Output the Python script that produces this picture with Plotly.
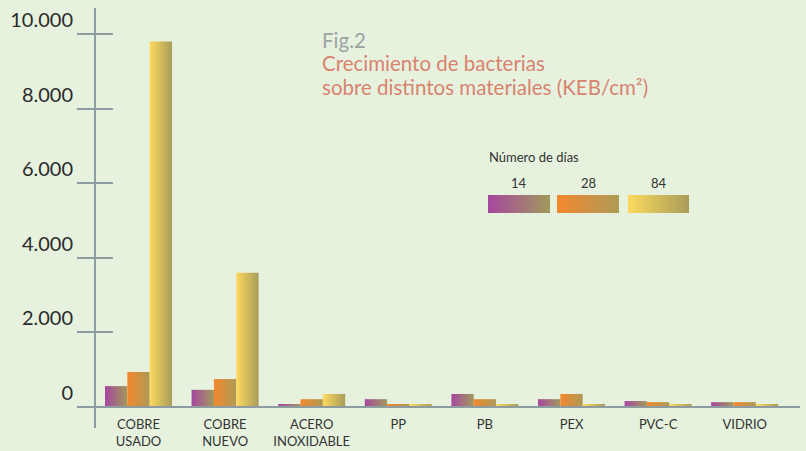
import plotly.graph_objects as go

# ---------------- data ----------------
categories = ["COBRE<br>USADO", "COBRE<br>NUEVO", "ACERO<br>INOXIDABLE", "PP", "PB", "PEX", "PVC-C", "VIDRIO"]
series_names = ["14", "28", "84"]
dias_14 = [560, 460, 80, 210, 350, 210, 160, 130]
dias_28 = [940, 750, 210, 80, 210, 350, 130, 130]
dias_84 = [9800, 3600, 350, 80, 80, 80, 80, 80]
y_tick_values = [0, 2000, 4000, 6000, 8000, 10000]
y_tick_labels = ["0", "2.000", "4.000", "6.000", "8.000", "10.000"]

# ---------------- styling ----------------
W, H = 806, 451
BG = "#E6F2DE"
AXIS = "#8C9CA0"
FONT = "Lato"
grad = [
    ["#A7479F", "#A09A5C"],
    ["#F3882E", "#AE9A56"],
    ["#FDDA5E", "#A89C5A"],
]
series = [dias_14, dias_28, dias_84]

# pixel layout helpers
x0_px, x1_px = 78, 800
ytop_px, ybot_px, yzero_px = 8, 428, 407
c0_px, step_px = 138.5, 86.6
xr = [(x0_px - c0_px) / step_px, (x1_px - c0_px) / step_px]
ppu = (yzero_px - 34) / 10000.0
yr = [-(ybot_px - yzero_px) / ppu, (yzero_px - ytop_px) / ppu]

fig = go.Figure()

bw = 0.258
for s, vals in enumerate(series):
    off = (s - 1) * bw
    for i, v in enumerate(vals):
        xa, xb = i + off - bw / 2, i + off + bw / 2
        fig.add_trace(go.Scatter(
            x=[xa, xb, xb, xa, xa], y=[0, 0, v, v, 0],
            mode="lines", fill="toself", line=dict(width=0, color="rgba(0,0,0,0)"),
            fillgradient=dict(type="horizontal", colorscale=[[0, grad[s][0]], [1, grad[s][1]]]),
            hoverinfo="skip", showlegend=False, xaxis="x", yaxis="y",
        ))

# legend swatches on a separate full-page pixel axis
sw_x = [(488, 550), (557, 619), (628, 689)]
sw_y = (195, 213)
for s, (a, b) in enumerate(sw_x):
    fig.add_trace(go.Scatter(
        x=[a, b, b, a, a], y=[sw_y[0], sw_y[0], sw_y[1], sw_y[1], sw_y[0]],
        mode="lines", fill="toself", line=dict(width=0, color="rgba(0,0,0,0)"),
        fillgradient=dict(type="horizontal", colorscale=[[0, grad[s][0]], [1, grad[s][1]]]),
        hoverinfo="skip", showlegend=False, xaxis="x3", yaxis="y3",
    ))

annotations = []
for s, (a, b) in enumerate(sw_x):
    annotations.append(dict(x=(a + b) / 2 / W, y=1 - 183 / H, xref="paper", yref="paper",
                            text=series_names[s], showarrow=False, xanchor="center", yanchor="middle",
                            font=dict(family=FONT, size=13, color="#333333")))
annotations.append(dict(x=487 / W, y=1 - 157 / H, xref="paper", yref="paper", text="Número de días",
                        showarrow=False, xanchor="left", yanchor="middle",
                        font=dict(family=FONT, size=13, color="#333333")))
TS = 20.5
annotations.append(dict(x=320 / W, y=1 - 40 / H, xref="paper", yref="paper", text="Fig.2",
                        showarrow=False, xanchor="left", yanchor="middle",
                        font=dict(family=FONT, size=TS, color="#9CA3A3")))
annotations.append(dict(x=320 / W, y=1 - 63 / H, xref="paper", yref="paper", text="Crecimiento de bacterias",
                        showarrow=False, xanchor="left", yanchor="middle",
                        font=dict(family=FONT, size=TS, color="#D9826E")))
annotations.append(dict(x=320 / W, y=1 - 87 / H, xref="paper", yref="paper",
                        text="sobre distintos materiales (KEB/cm²)",
                        showarrow=False, xanchor="left", yanchor="middle",
                        font=dict(family=FONT, size=TS, color="#D9826E")))

ydom = [1 - ybot_px / H, 1 - ytop_px / H]
fig.update_layout(
    width=W, height=H, margin=dict(l=0, r=0, t=0, b=0),
    paper_bgcolor=BG, plot_bgcolor="rgba(0,0,0,0)",
    showlegend=False, hovermode=False,
    font=dict(family=FONT, color="#2B2B2B"),
    xaxis=dict(domain=[x0_px / W, x1_px / W], range=xr, anchor="free", position=1 - yzero_px / H,
               showgrid=False, zeroline=False, showline=True, linecolor=AXIS, linewidth=2,
               tickmode="array", tickvals=list(range(len(categories))), ticktext=categories,
               ticks="", tickfont=dict(family=FONT, size=13, color="#333333"), ticklabelstandoff=5),
    yaxis=dict(domain=ydom, range=yr, anchor="free", position=95 / W,
               showgrid=False, zeroline=False, showline=True, linecolor=AXIS, linewidth=2,
               tickmode="array", tickvals=y_tick_values, ticktext=y_tick_labels,
               ticks="outside", ticklen=17, tickwidth=2, tickcolor=AXIS,
               tickfont=dict(family=FONT, size=20, color="#2B2B2B"), ticklabelshift=-14),
    yaxis2=dict(domain=ydom, range=yr, overlaying="y", anchor="free", position=95 / W, side="right",
                showgrid=False, zeroline=False, showline=False, showticklabels=False,
                tickmode="array", tickvals=y_tick_values[1:], ticks="outside", ticklen=17,
                tickwidth=2, tickcolor=AXIS),
    xaxis3=dict(domain=[0, 1], range=[0, W], anchor="y3", visible=False),
    yaxis3=dict(domain=[0, 1], range=[H, 0], anchor="x3", visible=False),
    annotations=annotations,
)
# dummy trace to make yaxis2 render
fig.add_trace(go.Scatter(x=[None], y=[None], xaxis="x", yaxis="y2", showlegend=False, hoverinfo="skip"))

fig.write_html("out.html", config={"displayModeBar": False},
               post_script="document.body.style.margin='0';document.body.style.background='%s';" % BG)
